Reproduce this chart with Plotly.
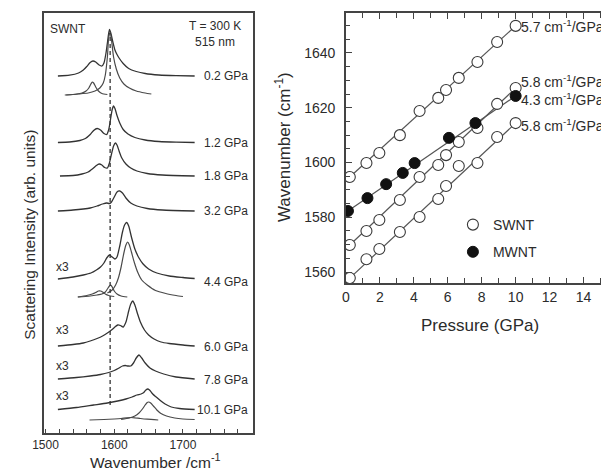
import plotly.graph_objects as go

# reference canvas is 609x472; the page adds an 8px body margin at the top-left,
# so the figure is drawn 8px smaller in each direction to end exactly at the window edge
REF_W, REF_H = 609, 472
PAD = 8
W, H = REF_W - PAD, REF_H - PAD

# ---------------- Right panel data (G-band position vs pressure) ----------------
swnt_p = [0.23, 1.21, 1.97, 3.18, 4.34, 5.44, 5.90, 6.65, 7.75, 8.91, 10.0]
swnt_a_w = [1594.7, 1599.8, 1603.5, 1610.0, 1618.8, 1623.6, 1626.5, 1630.9, 1636.7, 1644.0, 1649.9]
swnt_b_w = [1569.9, 1575.0, 1579.0, 1586.3, 1594.7, 1599.1, 1602.7, 1607.5, 1612.6, 1621.4, 1627.2]
swnt_c_w = [1557.8, 1564.7, 1568.4, 1574.6, 1580.1, 1586.7, 1591.4, 1598.7, 1599.8, 1609.3, 1614.4]
mwnt_p = [0.12, 1.27, 2.37, 3.35, 4.05, 6.07, 7.63, 10.0]
mwnt_w = [1582.3, 1587.0, 1592.1, 1596.2, 1599.8, 1609.0, 1614.4, 1624.3]
slope_labels = ["5.7", "5.8", "4.3", "5.8"]
right_xticks = [0, 2, 4, 6, 8, 10, 12, 14]
right_yticks = [1560, 1580, 1600, 1620, 1640]

# ---------------- Left panel data (Raman spectra, arb. units) ----------------
pressure_labels = ["0.2 GPa", "1.2 GPa", "1.8 GPa", "3.2 GPa", "4.4 GPa", "6.0 GPa", "7.8 GPa", "10.1 GPa"]
left_xticks = [1500, 1600, 1700]
ref_wavenumber = 1594

wn_02 = [1518, 1535, 1548, 1555, 1560, 1565, 1569, 1573, 1578, 1582, 1585, 1588, 1590, 1593, 1595, 1598, 1601, 1604, 1607, 1613, 1621, 1632, 1645, 1665, 1690, 1717]
in_02 = [0, 0.8, 3, 6, 9.5, 13.5, 15, 14, 11, 10, 13, 23, 33, 46.5, 43, 34, 26, 21.5, 18, 12.5, 7.5, 4.5, 2.5, 1, 0.3, 0]
off_02 = 357
wn_02s = [1528, 1548, 1562, 1572, 1579, 1584, 1587, 1590, 1592, 1594, 1596, 1599, 1603, 1608, 1614, 1622, 1632, 1645, 1654]
in_02s = [0, 1, 2, 4, 7, 12, 20, 38, 58, 63, 55, 38, 26, 17, 11, 7, 4, 2, 1]
wn_02k = [1530, 1545, 1553, 1559, 1563, 1566, 1568, 1570, 1573, 1577, 1582, 1590]
in_02k = [0, 1, 2, 4, 7, 11, 13, 12, 8, 4, 1.5, 0.5]
off_02s = 338

wn_12 = [1518, 1535, 1550, 1558, 1565, 1570, 1575, 1580, 1585, 1589, 1592, 1595, 1597, 1599, 1601, 1604, 1608, 1613, 1620, 1630, 1645, 1665, 1690, 1717]
in_12 = [0, 0.5, 2, 4, 8, 12, 14, 12.5, 9, 8, 13, 25, 33, 36.5, 34, 27, 19.5, 13, 8.5, 5, 2.5, 1, 0.3, 0]
off_12 = 290.5

wn_18 = [1521, 1540, 1553, 1562, 1569, 1574, 1578, 1582, 1586, 1590, 1593, 1596, 1599, 1601.5, 1604, 1607, 1611, 1617, 1624, 1633, 1648, 1670, 1717]
in_18 = [0, 0.5, 2, 4, 7.5, 10.5, 12, 11, 8.5, 8, 13, 22, 30, 33, 31, 25, 18, 12, 8, 5, 2.5, 1, 0]
off_18 = 257

wn_32 = [1518, 1540, 1555, 1565, 1575, 1583, 1589, 1593, 1596, 1600, 1604, 1608, 1612, 1617, 1624, 1633, 1648, 1670, 1717]
in_32 = [0, 1, 2, 3, 5, 7, 8, 7.5, 9, 14, 19, 20, 18, 13, 8, 5, 2.5, 1, 0]
off_32 = 222

wn_44 = [1518, 1540, 1555, 1566, 1574, 1580, 1585, 1589, 1593, 1597, 1601, 1604, 1608, 1612, 1615, 1618, 1621, 1625, 1630, 1636, 1642, 1650, 1662, 1680, 1700, 1717]
in_44 = [0, 2, 4, 6, 9, 12, 16, 21, 24, 22, 20, 22, 33, 47, 54, 56.5, 53, 42, 30, 21, 15, 10, 6, 3, 1.5, 0.5]
off_44 = 154
wn_44s = [1590, 1597, 1602, 1606, 1610, 1614, 1617, 1619.5, 1622, 1625, 1629, 1634, 1640, 1648, 1660, 1675, 1690, 1700]
in_44s = [4, 7, 12, 19, 30, 44, 52, 55, 52, 45, 35, 25, 17, 12, 6.5, 3.5, 1.5, 0.5]
wn_44a = [1547, 1565, 1575, 1582, 1587, 1590, 1593, 1595, 1597, 1600, 1604, 1610, 1619]
in_44a = [0, 1, 2, 3, 5, 8, 11, 12, 10, 6, 3, 1, 0]
wn_44b = [1547, 1560, 1568, 1573, 1577, 1580, 1583, 1587, 1592, 1600]
in_44b = [0, 1.5, 3, 4.5, 6, 6, 5, 3, 1.5, 0.5]
off_44s = 136

wn_60 = [1518, 1540, 1555, 1565, 1575, 1583, 1590, 1596, 1601, 1605, 1609, 1613, 1617, 1621, 1624, 1627, 1630, 1634, 1638, 1644, 1650, 1658, 1668, 1680, 1700, 1717]
in_60 = [0, 1.5, 3, 5, 7.5, 10, 13, 16, 19, 21, 20.5, 19, 24, 35, 42, 45, 41, 32, 24, 16, 11, 7, 4, 2.5, 1, 0]
off_60 = 87

wn_78 = [1518, 1545, 1565, 1580, 1592, 1600, 1607, 1612, 1616, 1620, 1624, 1628, 1632, 1636, 1640, 1645, 1652, 1660, 1672, 1690, 1717]
in_78 = [0, 1.5, 3, 4.5, 6.5, 8.5, 11, 13, 13.5, 13, 13, 16, 21, 24, 21, 16, 11, 8, 5, 2, 0]
off_78 = 54

wn_101 = [1518, 1545, 1570, 1590, 1605, 1617, 1626, 1633, 1639, 1643, 1646, 1649, 1652, 1656, 1661, 1667, 1674, 1683, 1695, 1717]
in_101 = [0, 2, 4.5, 6.5, 8.5, 10.5, 12.5, 14.5, 15.5, 17, 19.5, 20.5, 19, 15.5, 12.5, 9, 5.5, 2.5, 1, 0]
off_101 = 23.5
wn_101s = [1610, 1622, 1630, 1636, 1641, 1645, 1648, 1650, 1653, 1657, 1662, 1668, 1676, 1688, 1700, 1717]
in_101s = [0.5, 2, 4, 7, 11, 15, 17.5, 18, 17, 14, 10, 6.5, 4, 2, 1, 0.5]
wn_101b = [1564, 1585, 1600, 1610, 1618, 1624, 1630, 1638, 1648, 1664]
in_101b = [0, 0.5, 1, 1.5, 2.2, 2.5, 2.2, 1.5, 0.8, 0]
off_101s = 13

main_spectra = [(wn_02, in_02, off_02), (wn_12, in_12, off_12), (wn_18, in_18, off_18),
                (wn_32, in_32, off_32), (wn_44, in_44, off_44), (wn_60, in_60, off_60),
                (wn_78, in_78, off_78), (wn_101, in_101, off_101)]
fit_spectra = [(wn_02s, in_02s, off_02s), (wn_02k, in_02k, off_02s),
               (wn_44s, in_44s, off_44s), (wn_44a, in_44a, off_44s), (wn_44b, in_44b, off_44s),
               (wn_101s, in_101s, off_101s), (wn_101b, in_101b, off_101s)]
x3_flags = [False, False, False, False, True, True, True, True]

# ---------------- layout helpers (reference pixel -> paper) ----------------
def px(x):
    return (x - PAD) / W

def py(y):
    return 1 - (y - PAD) / H

FONT = "Liberation Sans, Arial, Helvetica, sans-serif"
INK = "#2b2b2b"

fig = go.Figure()

for wn, inten, off in main_spectra:
    fig.add_trace(go.Scatter(x=wn, y=[off + v for v in inten], mode="lines",
                             line=dict(color="#333333", width=1.3, shape="spline", smoothing=0.6),
                             xaxis="x", yaxis="y", showlegend=False, hoverinfo="skip"))
for wn, inten, off in fit_spectra:
    fig.add_trace(go.Scatter(x=wn, y=[off + v for v in inten], mode="lines",
                             line=dict(color="#4a4a4a", width=1.2, shape="spline", smoothing=0.6),
                             xaxis="x", yaxis="y", showlegend=False, hoverinfo="skip"))

for p, w in [(swnt_p, swnt_a_w), (swnt_p, swnt_b_w), (swnt_p, swnt_c_w), (mwnt_p, mwnt_w)]:
    fig.add_trace(go.Scatter(x=[p[0], p[-1]], y=[w[0], w[-1]], mode="lines",
                             line=dict(color="#555555", width=1.2),
                             xaxis="x2", yaxis="y2", showlegend=False, hoverinfo="skip"))

open_marker = dict(symbol="circle", size=11, color="white", line=dict(color="#3a3a3a", width=1.1))
filled_marker = dict(symbol="circle", size=11, color="#111111", line=dict(color="#111111", width=1))
for i, w in enumerate([swnt_a_w, swnt_b_w, swnt_c_w]):
    fig.add_trace(go.Scatter(x=swnt_p, y=w, mode="markers", marker=open_marker,
                             name="SWNT", legendgroup="s", showlegend=(i == 0),
                             xaxis="x2", yaxis="y2"))
fig.add_trace(go.Scatter(x=mwnt_p, y=mwnt_w, mode="markers", marker=filled_marker,
                         name="MWNT", legendgroup="m", showlegend=True,
                         xaxis="x2", yaxis="y2"))

ann = []
ann.append(dict(x=px(38), y=py(29), text="SWNT", xanchor="left", yanchor="middle", font=dict(size=12)))
ann.append(dict(x=px(208), y=py(26), text="T = 300 K", xanchor="center", yanchor="middle", font=dict(size=12)))
ann.append(dict(x=px(208), y=py(42), text="515 nm", xanchor="center", yanchor="middle", font=dict(size=12)))
label_y = [76, 143, 176, 211, 282, 347, 380, 410]
for lab, yy in zip(pressure_labels, label_y):
    ann.append(dict(x=px(243), y=py(yy), text=lab, xanchor="right", yanchor="middle", font=dict(size=12)))
x3_y = [0, 0, 0, 0, 267, 330, 366, 396]
for flag, yy in zip(x3_flags, x3_y):
    if flag:
        ann.append(dict(x=px(52), y=py(yy), text="x3", xanchor="center", yanchor="middle", font=dict(size=12)))
ann.append(dict(x=px(147), y=py(461), text="Wavenumber /cm<sup>-1</sup>", xanchor="center", yanchor="middle", font=dict(size=15.5)))
ann.append(dict(x=px(18), y=py(235), text="Scattering Intensity (arb. units)", textangle=-90,
                xanchor="center", yanchor="middle", font=dict(size=15.5)))
slope_y = [26, 81, 99, 125]
for lab, yy in zip(slope_labels, slope_y):
    ann.append(dict(x=px(517), y=py(yy), text=lab + " cm<sup>-1</sup>/GPa", xanchor="left", yanchor="middle", font=dict(size=14)))
ann.append(dict(x=px(478), y=py(325), text="Pressure (GPa)", xanchor="center", yanchor="middle", font=dict(size=17)))
ann.append(dict(x=px(277), y=py(147), text="Wavenumber (cm<sup>-1</sup>)", textangle=-90,
                xanchor="center", yanchor="middle", font=dict(size=17)))
for a in ann:
    a.update(xref="paper", yref="paper", showarrow=False)
    a["font"].update(color=INK, family=FONT)

shapes = [dict(type="line", xref="x", yref="y", x0=ref_wavenumber, x1=ref_wavenumber, y0=28, y1=400,
               line=dict(color="#333333", width=1.3, dash="4px,3px"))]

right_xmax = (REF_W - 341) / 17.29

fig.update_layout(
    width=W, height=H, margin=dict(l=0, r=0, t=0, b=0),
    paper_bgcolor="white", plot_bgcolor="white",
    font=dict(family=FONT, color=INK),
    annotations=ann, shapes=shapes,
    xaxis=dict(domain=[px(33), px(246)], range=[1497.1, 1801.4],
               showline=True, mirror=True, linecolor="#444444", linewidth=1.6,
               tickvals=left_xticks, ticks="inside", ticklen=4, tickcolor="#444444",
               minor=dict(dtick=20, tick0=1500, ticks="inside", ticklen=4, tickcolor="#444444"),
               showgrid=False, zeroline=False, tickfont=dict(size=12), anchor="y"),
    yaxis=dict(domain=[py(433), py(13)], range=[0, 420],
               showline=True, mirror=True, linecolor="#444444", linewidth=1.6,
               showticklabels=False, ticks="", showgrid=False, zeroline=False, anchor="x"),
    xaxis2=dict(domain=[px(341), 1.0], range=[0, right_xmax],
                showline=True, mirror="ticks", linecolor="#444444", linewidth=1.6,
                tickvals=right_xticks, ticks="inside", ticklen=6, tickcolor="#444444",
                minor=dict(dtick=1, tick0=0, ticks="inside", ticklen=5, tickcolor="#444444"),
                showgrid=False, zeroline=False, tickfont=dict(size=14), anchor="y2"),
    yaxis2=dict(domain=[py(283), py(13)], range=[1556.0, 1654.6],
                showline=True, mirror=False, linecolor="#444444", linewidth=1.6,
                tickvals=right_yticks, ticks="inside", ticklen=6, tickcolor="#444444",
                minor=dict(dtick=5, tick0=1560, ticks="inside", ticklen=4, tickcolor="#444444"),
                ticklabelstandoff=6,
                showgrid=False, zeroline=False, tickfont=dict(size=14), anchor="x2"),
    legend=dict(x=px(450), y=py(209), xanchor="left", yanchor="top",
                bgcolor="rgba(0,0,0,0)", font=dict(size=14, family=FONT, color=INK),
                tracegroupgap=6, itemwidth=30),
)

fig.write_html("out.html")
